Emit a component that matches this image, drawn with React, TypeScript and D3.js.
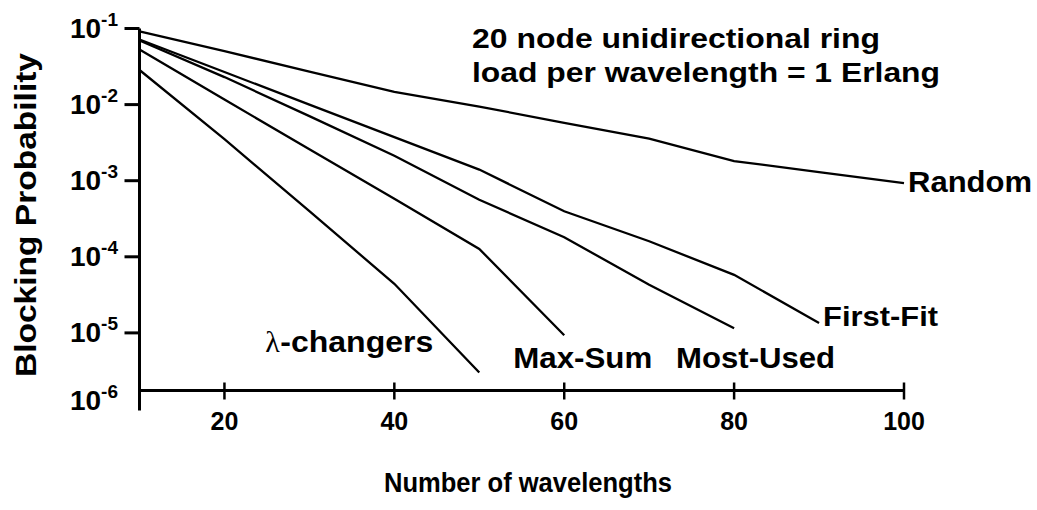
import { useMemo } from 'react';
import * as d3 from 'd3';

// number of wavelengths (x)
const wavelengths = [10, 20, 30, 40, 50, 60, 70, 80, 90, 100];

// blocking probability per scheme
const random = [0.0914, 0.0504, 0.0272, 0.0147, 0.00942, 0.00577, 0.00357, 0.00181, 0.0013, 0.000927];
const firstFit = [0.0716, 0.0268, 0.01, 0.00373, 0.0014, 0.000397, 0.00016, 5.79e-5, 1.35e-5];
const mostUsed = [0.0695, 0.023, 0.00706, 0.00213, 0.000562, 0.000181, 4.28e-5, 1.15e-5];
const maxSum = [0.053, 0.01164, 0.00259, 0.00058, 0.000127, 9.3e-6];
const lambdaChangers = [0.0285, 0.00352, 0.000397, 4.42e-5, 3.02e-6];

const xTicks = [20, 40, 60, 80, 100];
const yTicks = [1e-1, 1e-2, 1e-3, 1e-4, 1e-5];
const yTickExp = ['-1', '-2', '-3', '-4', '-5'];
const yFloorExp = '-6';

const titleLines = ['20 node unidirectional ring', 'load per wavelength = 1 Erlang'];

const W = 1037;
const H = 510;
const FONT = '"Liberation Sans", Arial, Helvetica, sans-serif';

export default function App() {
  const x = useMemo(() => d3.scaleLinear().domain([10, 100]).range([139.5, 904]), []);
  // the drawing's bottom decade is squashed: axis sits at ~1.75e-6
  const y = useMemo(() => d3.scaleLog().domain([1e-1, 1.75e-6]).range([28.5, 390.5]), []);

  const line = d3.line<[number, number]>()
    .x(d => x(d[0]))
    .y(d => y(d[1]));

  const series = [
    { name: 'Random', values: random },
    { name: 'First-Fit', values: firstFit },
    { name: 'Most-Used', values: mostUsed },
    { name: 'Max-Sum', values: maxSum },
    { name: 'lambda', values: lambdaChangers },
  ].map(s => ({
    ...s,
    pts: s.values.map((v, i) => [wavelengths[i], v] as [number, number]),
  }));

  const end = (name: string) => {
    const s = series.find(d => d.name === name)!;
    const p = s.pts[s.pts.length - 1];
    return [x(p[0]), y(p[1])];
  };

  const axisY = y(1.75e-6);
  const [rx, ry] = end('Random');
  const [fx, fy] = end('First-Fit');
  const [mx, my] = end('Most-Used');
  const [sx, sy] = end('Max-Sum');
  const [lx, ly] = end('lambda');

  return (
    <svg width={W} height={H} style={{ position: 'absolute', left: 0, top: 0, background: '#fff' }}
      fontFamily={FONT} fontWeight="bold" fill="#000">
      {/* axes */}
      <line x1={x(10)} x2={x(10)} y1={y(1e-1)} y2={axisY + 20} stroke="#000" strokeWidth={3} />
      <line x1={x(10)} x2={x(100)} y1={axisY} y2={axisY} stroke="#000" strokeWidth={3} />
      {yTicks.map((t, i) => (
        <g key={t}>
          <line x1={x(10) - 15} x2={x(10)} y1={y(t)} y2={y(t)} stroke="#000" strokeWidth={3} />
          <text x={118} y={y(t) + 9} textAnchor="end" fontSize={28}>
            10<tspan fontSize={19} dy={-12}>{yTickExp[i]}</tspan>
          </text>
        </g>
      ))}
      <text x={118} y={axisY + 19} textAnchor="end" fontSize={28}>
        10<tspan fontSize={19} dy={-12}>{yFloorExp}</tspan>
      </text>
      {xTicks.map(t => (
        <g key={t}>
          <line x1={x(t)} x2={x(t)} y1={axisY - 8} y2={axisY + 9} stroke="#000" strokeWidth={2.5} />
          <text x={x(t)} y={axisY + 39} textAnchor="middle" fontSize={25}>{t}</text>
        </g>
      ))}

      {/* axis titles */}
      <text transform="translate(36,215) rotate(-90)" textAnchor="middle" fontSize={29}
        textLength={324} lengthAdjust="spacingAndGlyphs">Blocking Probability</text>
      <text x={528} y={492} textAnchor="middle" fontSize={28}
        textLength={288} lengthAdjust="spacingAndGlyphs">Number of wavelengths</text>

      {/* curves */}
      {series.map(s => (
        <path key={s.name} d={line(s.pts) ?? ''} fill="none" stroke="#000" strokeWidth={2.3} />
      ))}

      {/* title */}
      <text x={472} y={48} fontSize={27} textLength={408} lengthAdjust="spacingAndGlyphs">{titleLines[0]}</text>
      <text x={472} y={82} fontSize={27} textLength={468} lengthAdjust="spacingAndGlyphs">{titleLines[1]}</text>

      {/* series labels */}
      <text x={rx + 4} y={ry + 9} fontSize={29} textLength={124} lengthAdjust="spacingAndGlyphs">Random</text>
      <text x={fx + 4} y={fy + 3} fontSize={28} textLength={115} lengthAdjust="spacingAndGlyphs">First-Fit</text>
      <text x={mx - 58} y={my + 40} fontSize={29} textLength={159} lengthAdjust="spacingAndGlyphs">Most-Used</text>
      <text x={sx - 51} y={sy + 33} fontSize={29} textLength={139} lengthAdjust="spacingAndGlyphs">Max-Sum</text>
      <text x={lx - 214} y={ly - 20} fontSize={30} fontWeight="normal"
        fontFamily='"Liberation Serif", "DejaVu Serif", serif'>λ</text>
      <text x={lx - 199} y={ly - 20} fontSize={29} textLength={153} lengthAdjust="spacingAndGlyphs">-changers</text>
    </svg>
  );
}
